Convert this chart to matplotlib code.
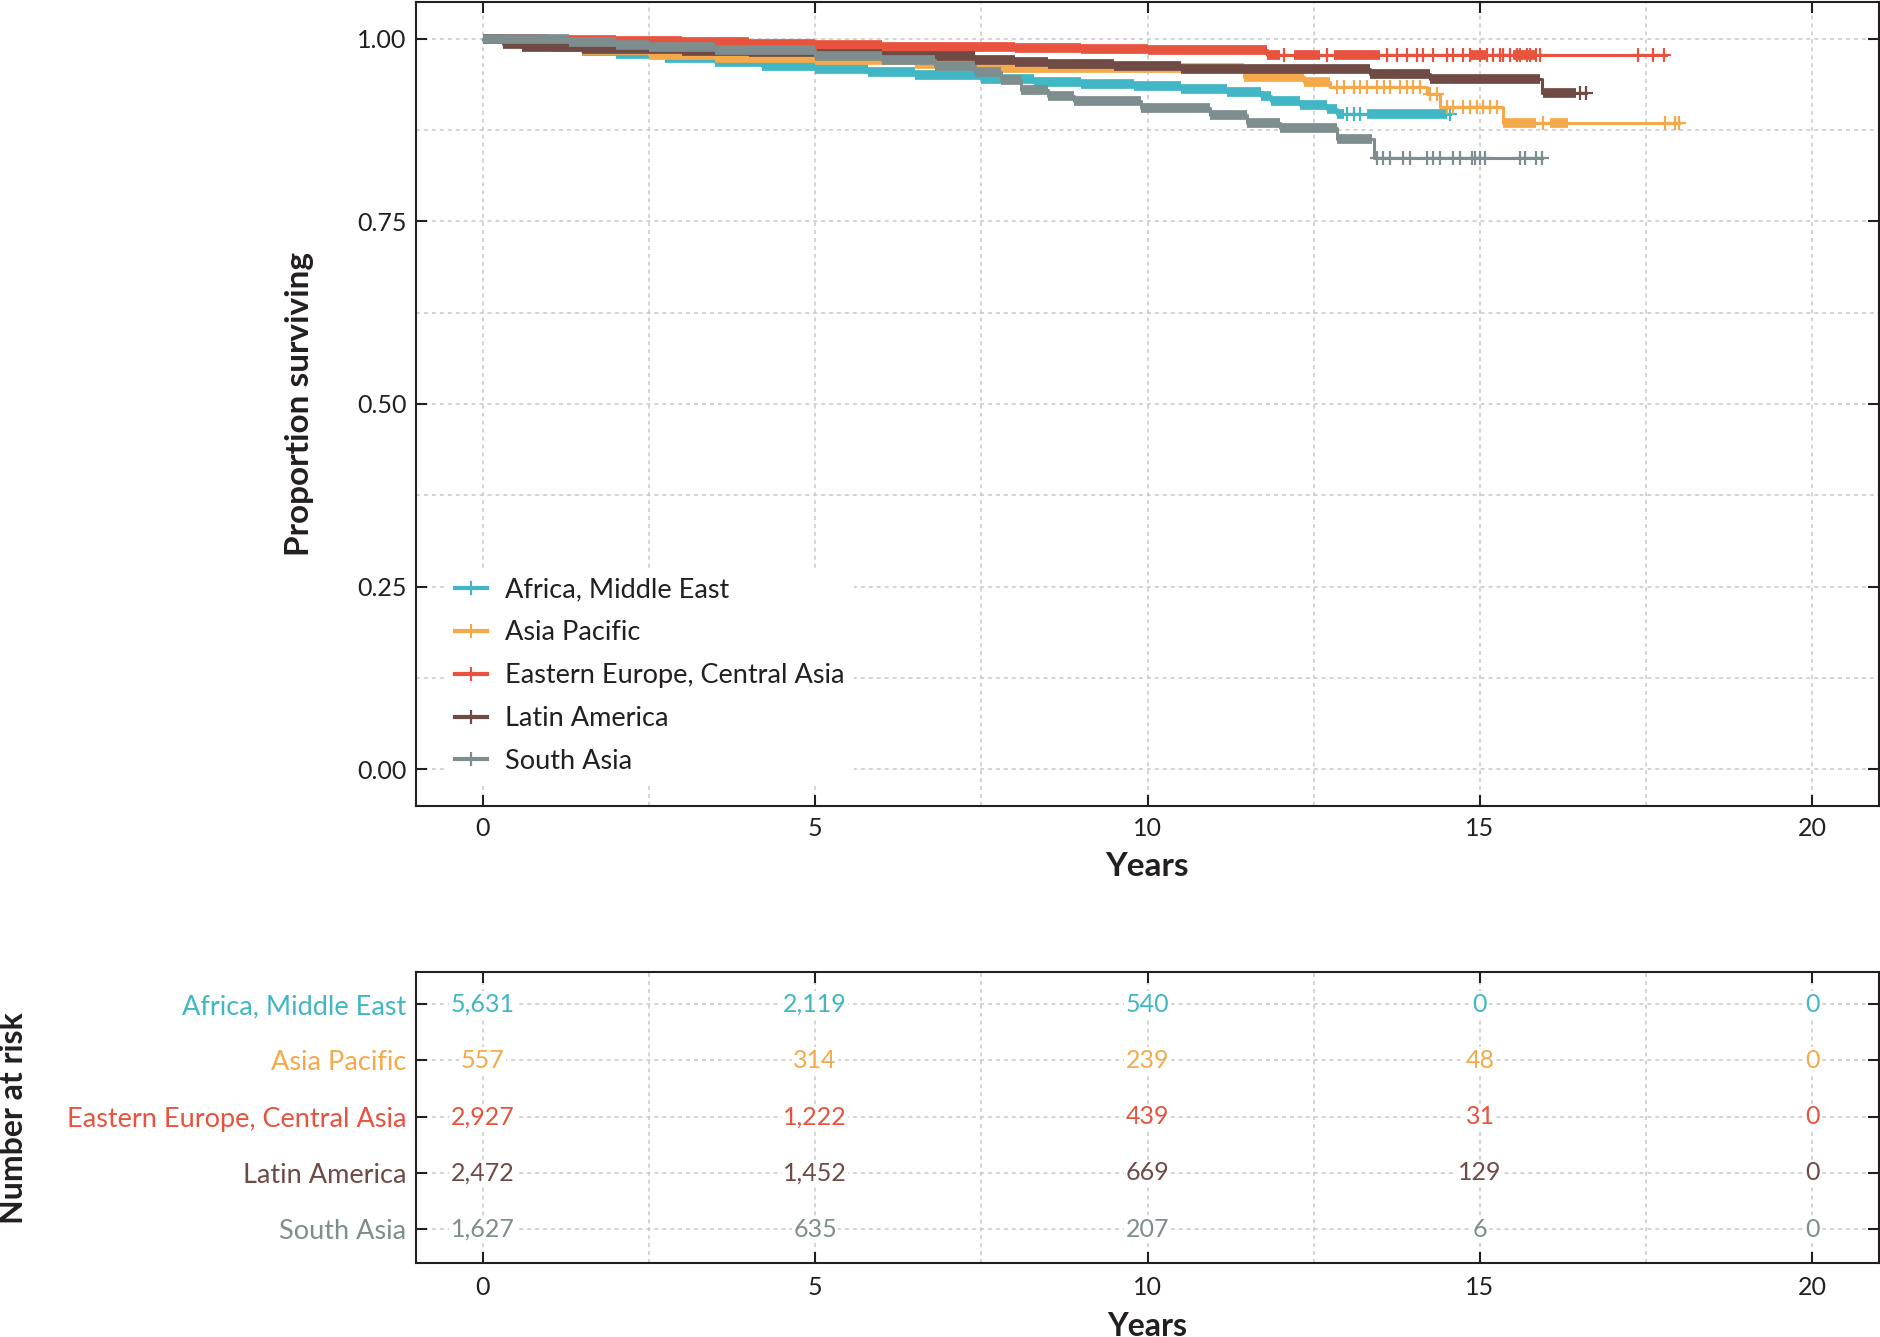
import numpy as np
import matplotlib

matplotlib.use("Agg")
import matplotlib.pyplot as plt
from matplotlib.lines import Line2D
from matplotlib.ticker import MultipleLocator, FormatStrFormatter

plt.rcParams["font.family"] = ["Lato", "DejaVu Sans"]

# ---------------- data ----------------
GROUPS = [
    "Africa, Middle East",
    "Asia Pacific",
    "Eastern Europe, Central Asia",
    "Latin America",
    "South Asia",
]
COLORS = ["#41B6C4", "#F4A94B", "#E8533F", "#704A45", "#7E8D8D"]

# Kaplan-Meier step points (time in years, survival after the step)
africa_t = [0, 0.5, 1.0, 1.5, 2.0, 2.75, 3.5, 4.2, 5.0, 5.8, 6.5, 7.5, 8.3, 9.0,
            9.8, 10.5, 11.2, 11.7, 11.85, 12.3, 12.7, 12.85]
africa_s = [1.000, 0.994, 0.988, 0.983, 0.979, 0.973, 0.968, 0.963, 0.958, 0.954,
            0.950, 0.945, 0.941, 0.938, 0.935, 0.931, 0.927, 0.922, 0.914, 0.909,
            0.904, 0.897]
africa_end = 14.55
africa_dense = [(0, 12.95), (13.3, 14.5)]
africa_cens = [13.0, 13.1, 13.2, 14.55]

asia_t = [0, 0.8, 1.5, 2.5, 3.5, 5.0, 6.5, 7.5, 11.45, 12.35, 12.75, 14.2, 14.4, 15.35]
asia_s = [1.000, 0.993, 0.985, 0.977, 0.973, 0.970, 0.965, 0.960, 0.948, 0.941,
          0.934, 0.924, 0.907, 0.884]
asia_end = 18.0
asia_dense = [(0, 12.75), (15.35, 15.85), (16.05, 16.33)]
asia_cens = [12.85, 12.95, 13.1, 13.2, 13.3, 13.45, 13.55, 13.65, 13.8, 13.9, 14.0,
             14.1, 14.25, 14.35, 14.5, 14.6, 14.75, 14.85, 14.95, 15.05, 15.15,
             15.25, 15.95, 17.78, 17.93, 18.0]

eeca_t = [0, 0.5, 1.0, 2.0, 3.0, 4.0, 5.0, 6.0, 7.0, 8.0, 9.0, 10.0, 11.0, 11.8]
eeca_s = [1.000, 0.999, 0.998, 0.997, 0.995, 0.993, 0.991, 0.989, 0.988, 0.987,
          0.986, 0.985, 0.984, 0.978]
eeca_end = 17.8
eeca_dense = [(0, 12.0), (12.2, 12.6), (12.8, 13.5), (14.85, 15.1), (15.5, 15.85)]
eeca_cens = [12.05, 12.7, 13.6, 13.75, 13.9, 14.05, 14.15, 14.3, 14.5, 14.6, 14.75,
             14.85, 15.0, 15.1, 15.2, 15.3, 15.35, 15.45, 15.55, 15.6, 15.7, 15.75,
             15.85, 15.9, 17.37, 17.6, 17.77]

latam_t = [0, 0.3, 0.6, 1.5, 3.0, 4.0, 5.0, 6.0, 7.4, 8.0, 8.5, 9.5, 10.5, 13.35,
           14.25, 15.93]
latam_s = [1.000, 0.993, 0.989, 0.986, 0.983, 0.981, 0.979, 0.976, 0.971, 0.968,
           0.965, 0.962, 0.958, 0.951, 0.945, 0.926]
latam_end = 16.6
latam_dense = [(0, 15.9), (15.95, 16.45)]
latam_cens = [16.5, 16.6]

sasia_t = [0, 1.3, 2.0, 2.5, 3.5, 5.0, 6.0, 6.8, 7.4, 7.8, 8.1, 8.5, 8.9, 9.9,
           10.94, 11.5, 12.0, 12.85, 13.4]
sasia_s = [1.000, 0.995, 0.991, 0.988, 0.984, 0.976, 0.970, 0.963, 0.954, 0.943,
           0.930, 0.922, 0.914, 0.905, 0.896, 0.884, 0.877, 0.862, 0.836]
sasia_end = 15.93
sasia_dense = [(0, 13.38)]
sasia_cens = [13.45, 13.54, 13.65, 13.84, 13.95, 14.2, 14.29, 14.4, 14.59, 14.7,
              14.88, 14.92, 15.0, 15.07, 15.6, 15.67, 15.85, 15.93]

CURVES = [
    (africa_t, africa_s, africa_end, africa_dense, africa_cens),
    (asia_t, asia_s, asia_end, asia_dense, asia_cens),
    (eeca_t, eeca_s, eeca_end, eeca_dense, eeca_cens),
    (latam_t, latam_s, latam_end, latam_dense, latam_cens),
    (sasia_t, sasia_s, sasia_end, sasia_dense, sasia_cens),
]

# number at risk
RISK_YEARS = [0, 5, 10, 15, 20]
risk_africa = [5631, 2119, 540, 0, 0]
risk_asia = [557, 314, 239, 48, 0]
risk_eeca = [2927, 1222, 439, 31, 0]
risk_latam = [2472, 1452, 669, 129, 0]
risk_sasia = [1627, 635, 207, 6, 0]
RISK = [risk_africa, risk_asia, risk_eeca, risk_latam, risk_sasia]

# ---------------- style ----------------
INK = "#231F20"
GRID = dict(color="#C8C8C8", linestyle=(0, (2.6, 2.6)), linewidth=1.1)
TICK_FS = 18
TEXT_FS = 19.5
NUM_FS = 18
LABEL_FS = 24


def style_axes(ax):
    for sp in ax.spines.values():
        sp.set_linewidth(1.5)
        sp.set_color(INK)
    ax.tick_params(which="major", direction="in", length=8, width=1.5,
                   top=True, right=True, colors=INK, labelsize=TICK_FS)
    ax.tick_params(which="minor", length=0, top=True, right=True)
    ax.set_axisbelow(True)


fig = plt.figure(figsize=(18.81, 13.37), dpi=100)
fig.patch.set_facecolor("white")

# ---------- survival curves ----------
ax = fig.add_axes([0.2212, 0.3972, 0.7777, 0.6013])
style_axes(ax)
ax.set_xlim(-1, 21)
ax.set_ylim(-0.05, 1.05)
ax.xaxis.set_major_locator(MultipleLocator(5))
ax.xaxis.set_minor_locator(MultipleLocator(2.5))
ax.yaxis.set_major_locator(MultipleLocator(0.25))
ax.yaxis.set_minor_locator(MultipleLocator(0.125))
ax.yaxis.set_major_formatter(FormatStrFormatter("%.2f"))
ax.tick_params(axis="x", pad=8)
ax.tick_params(axis="y", pad=7)
ax.grid(True, which="both", **GRID)

for k, ((t, s, end, dense, cens), c) in enumerate(zip(CURVES, COLORS)):
    z = 3 + k
    t = np.asarray(t, dtype=float)
    s = np.asarray(s, dtype=float)
    ax.step(np.append(t, end), np.append(s, s[-1]), where="post",
            color=c, lw=2.2, zorder=z)
    # dense censoring shows up as a solid band
    edges = np.append(t, end)
    for i in range(len(t)):
        for d0, d1 in dense:
            lo, hi = max(edges[i], d0), min(edges[i + 1], d1)
            if hi > lo:
                ax.hlines(s[i], lo, hi, color=c, lw=7, zorder=z)
    cens = np.asarray(cens, dtype=float)
    idx = np.searchsorted(t, cens, side="right") - 1
    ax.plot(cens, s[idx], ls="none", marker="+", ms=10, mew=1.6,
            color=c, zorder=z)

handles = [Line2D([], [], color=c, lw=3, marker="+", ms=10, mew=1.6)
           for c in COLORS]
leg = ax.legend(handles, GROUPS, loc="lower left", bbox_to_anchor=(0.02, 0.028),
                fontsize=TEXT_FS, frameon=True, fancybox=False, borderpad=0.35,
                handlelength=1.2, handletextpad=0.65, labelspacing=0.66,
                borderaxespad=0)
leg.get_frame().set_facecolor("white")
leg.get_frame().set_edgecolor("none")
leg.get_frame().set_alpha(1)
for txt in leg.get_texts():
    txt.set_color(INK)

fig.text(0.610, 1 - 866 / 1337, "Years", ha="center", va="center",
         fontsize=LABEL_FS, fontweight="bold", color=INK)
fig.text(300 / 1881, 1 - 404 / 1337, "Proportion surviving", rotation=90,
         ha="center", va="center", fontsize=LABEL_FS, fontweight="bold", color=INK)

# ---------- number at risk ----------
ax2 = fig.add_axes([0.2212, 0.0553, 0.7777, 0.2177])
style_axes(ax2)
rows = np.arange(1, len(GROUPS) + 1)
ax2.set_xlim(-1, 21)
ax2.set_ylim(5.6, 0.43)
ax2.xaxis.set_major_locator(MultipleLocator(5))
ax2.xaxis.set_minor_locator(MultipleLocator(2.5))
ax2.set_yticks(rows)
ax2.set_yticklabels(GROUPS, fontsize=TEXT_FS)
for lab, c in zip(ax2.get_yticklabels(), COLORS):
    lab.set_color(c)
ax2.tick_params(axis="x", pad=9)
ax2.tick_params(axis="y", pad=7)
ax2.grid(True, which="major", axis="y", **GRID)
ax2.grid(True, which="both", axis="x", **GRID)

for r, vals, c in zip(rows, RISK, COLORS):
    for x, v in zip(RISK_YEARS, vals):
        ax2.text(x, r, f"{v:,}", ha="center", va="center", fontsize=NUM_FS,
                 color=c, zorder=5,
                 bbox=dict(facecolor="white", edgecolor="none", pad=1))

# the reference crops this label at the bottom edge
fig.text(0.610, 1 / 1337, "Years", ha="center", va="baseline",
         fontsize=LABEL_FS - 1, fontweight="bold", color=INK)
fig.text(14 / 1881, 1 - 1118 / 1337, "Number at risk", rotation=90,
         ha="center", va="center", fontsize=LABEL_FS - 1, fontweight="bold",
         color=INK)

fig.savefig("out.png", dpi=100, facecolor="white")
